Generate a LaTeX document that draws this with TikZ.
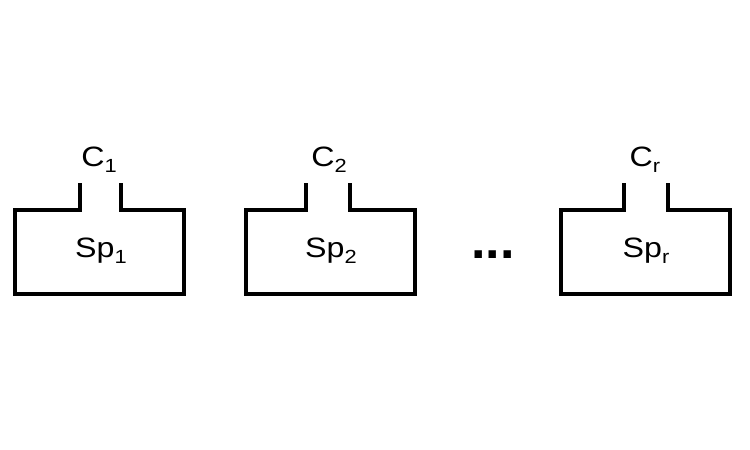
\documentclass[tikz,border=0pt]{standalone}
\usepackage{fontspec}
\setmainfont{Liberation Sans}
\tikzset{
  vessel/.style={line width=4pt, line join=miter, line cap=butt},
  lab/.style={font=\fontsize{28}{28}\selectfont, inner sep=0pt, xscale=1.15},
}
\newcommand{\sbx}[1]{\raisebox{-0.22em}{\fontsize{19}{19}\selectfont #1}}
\newcommand{\vesselshape}[4]{% left, right, neckL, neckR
  \draw[vessel] (#3,183) -- (#3,210) -- (#1,210) -- (#1,294) -- (#2,294) -- (#2,210) -- (#4,210) -- (#4,183);
}
\begin{document}
\begin{tikzpicture}[x=1pt,y=-1pt]
\useasboundingbox (0,0) rectangle (750,450);
\vesselshape{15}{184}{80}{121}
\vesselshape{246}{415}{306}{350}
\vesselshape{561}{730}{624}{668}
\node[lab] (c1) at (99,160) {C\sbx{1}};
\node[lab] (c2) at (329,160) {C\sbx{2}};
\node[lab] (c3) at (645,160) {C\sbx{r}};
\node[lab] (s1) at (101,251) {Sp\sbx{1}};
\node[lab] (s2) at (331,251) {Sp\sbx{2}};
\node[lab] (s3) at (646,251) {Sp\sbx{r}};
\node[inner sep=0pt, font=\fontsize{52}{52}\selectfont\bfseries, anchor=base] (dots) at (493,258) {...};
\end{tikzpicture}
\end{document}
